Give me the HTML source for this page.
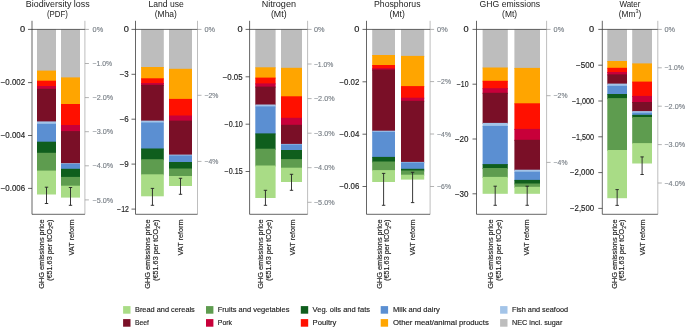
<!DOCTYPE html>
<html><head><meta charset="utf-8"><style>
html,body{margin:0;padding:0;background:#fff;width:685px;height:327px;overflow:hidden;position:relative}
svg{will-change:transform} svg text{font-family:"Liberation Sans", sans-serif} svg text.d{stroke:#222;stroke-width:0.15px} svg text.g{stroke:#7a8088;stroke-width:0.15px}
</style></head><body>
<svg width="685" height="327" viewBox="0 0 685 327" style="position:absolute;left:0;top:0"><rect x="37.0" y="29.4" width="19.00" height="42.20" fill="#bdbdbd"/><rect x="37.0" y="70.6" width="19.00" height="11.10" fill="#ffa500"/><rect x="37.0" y="80.7" width="19.00" height="6.30" fill="#ff1000"/><rect x="37.0" y="86.0" width="19.00" height="3.80" fill="#c8003a"/><rect x="37.0" y="88.8" width="19.00" height="33.60" fill="#7a0f27"/><rect x="37.0" y="121.4" width="19.00" height="3.40" fill="#a3c4e8"/><rect x="37.0" y="123.8" width="19.00" height="18.90" fill="#5b8fd2"/><rect x="37.0" y="141.7" width="19.00" height="12.10" fill="#0f5e1d"/><rect x="37.0" y="152.8" width="19.00" height="18.80" fill="#5e9c4f"/><rect x="37.0" y="170.6" width="19.00" height="23.90" fill="#a9dc86"/><rect x="61.0" y="29.4" width="19.00" height="49.00" fill="#bdbdbd"/><rect x="61.0" y="77.4" width="19.00" height="27.60" fill="#ffa500"/><rect x="61.0" y="104.0" width="19.00" height="22.00" fill="#ff1000"/><rect x="61.0" y="125.0" width="19.00" height="7.10" fill="#c8003a"/><rect x="61.0" y="131.1" width="19.00" height="33.10" fill="#7a0f27"/><rect x="61.0" y="163.2" width="19.00" height="1.60" fill="#a3c4e8"/><rect x="61.0" y="163.8" width="19.00" height="6.00" fill="#5b8fd2"/><rect x="61.0" y="168.8" width="19.00" height="9.10" fill="#0f5e1d"/><rect x="61.0" y="176.9" width="19.00" height="9.80" fill="#5e9c4f"/><rect x="61.0" y="185.7" width="19.00" height="11.90" fill="#a9dc86"/><line x1="32.0" y1="20.8" x2="32.0" y2="214.3" stroke="#333" stroke-width="0.75"/><line x1="84.9" y1="20.8" x2="84.9" y2="214.3" stroke="#a8a8a8" stroke-width="0.75"/><line x1="32.0" y1="214.3" x2="84.9" y2="214.3" stroke="#333" stroke-width="0.75"/><line x1="32.0" y1="29.4" x2="84.9" y2="29.4" stroke="#333" stroke-width="0.75"/><line x1="28.0" y1="29.4" x2="32.0" y2="29.4" stroke="#333" stroke-width="0.75"/><text x="25.150000000000002" y="32.1" text-anchor="end" class="d" font-size="8.2" fill="#222" textLength="5.15" lengthAdjust="spacingAndGlyphs">0</text><line x1="28.0" y1="82.6" x2="32.0" y2="82.6" stroke="#333" stroke-width="0.75"/><text x="25.150000000000002" y="85.3" text-anchor="end" class="d" font-size="8.2" fill="#222" textLength="24.40" lengthAdjust="spacingAndGlyphs">−0.002</text><line x1="28.0" y1="135.5" x2="32.0" y2="135.5" stroke="#333" stroke-width="0.75"/><text x="25.150000000000002" y="138.2" text-anchor="end" class="d" font-size="8.2" fill="#222" textLength="24.40" lengthAdjust="spacingAndGlyphs">−0.004</text><line x1="28.0" y1="188.4" x2="32.0" y2="188.4" stroke="#333" stroke-width="0.75"/><text x="25.150000000000002" y="191.1" text-anchor="end" class="d" font-size="8.2" fill="#222" textLength="24.40" lengthAdjust="spacingAndGlyphs">−0.006</text><line x1="84.9" y1="29.4" x2="88.9" y2="29.4" stroke="#999" stroke-width="0.75"/><text x="92.60000000000001" y="32.0" class="g" font-size="7.5" fill="#7a8088" textLength="10.60" lengthAdjust="spacingAndGlyphs">0%</text><line x1="84.9" y1="63.5" x2="88.9" y2="63.5" stroke="#999" stroke-width="0.75"/><text x="92.60000000000001" y="66.1" class="g" font-size="7.5" fill="#7a8088" textLength="19.50" lengthAdjust="spacingAndGlyphs">−1.0%</text><line x1="84.9" y1="97.6" x2="88.9" y2="97.6" stroke="#999" stroke-width="0.75"/><text x="92.60000000000001" y="100.19999999999999" class="g" font-size="7.5" fill="#7a8088" textLength="20.70" lengthAdjust="spacingAndGlyphs">−2.0%</text><line x1="84.9" y1="131.7" x2="88.9" y2="131.7" stroke="#999" stroke-width="0.75"/><text x="92.60000000000001" y="134.29999999999998" class="g" font-size="7.5" fill="#7a8088" textLength="20.70" lengthAdjust="spacingAndGlyphs">−3.0%</text><line x1="84.9" y1="165.8" x2="88.9" y2="165.8" stroke="#999" stroke-width="0.75"/><text x="92.60000000000001" y="168.4" class="g" font-size="7.5" fill="#7a8088" textLength="20.70" lengthAdjust="spacingAndGlyphs">−4.0%</text><line x1="84.9" y1="199.9" x2="88.9" y2="199.9" stroke="#999" stroke-width="0.75"/><text x="92.60000000000001" y="202.5" class="g" font-size="7.5" fill="#7a8088" textLength="20.70" lengthAdjust="spacingAndGlyphs">−5.0%</text><line x1="46.5" y1="187.2" x2="46.5" y2="203.5" stroke="#222" stroke-width="0.9"/><line x1="44.8" y1="187.2" x2="48.2" y2="187.2" stroke="#222" stroke-width="0.9"/><line x1="44.8" y1="203.5" x2="48.2" y2="203.5" stroke="#222" stroke-width="0.9"/><line x1="70.5" y1="187.5" x2="70.5" y2="205.3" stroke="#222" stroke-width="0.9"/><line x1="68.8" y1="187.5" x2="72.2" y2="187.5" stroke="#222" stroke-width="0.9"/><line x1="68.8" y1="205.3" x2="72.2" y2="205.3" stroke="#222" stroke-width="0.9"/><text x="25.8" y="6.7" font-size="8.6" fill="#222" textLength="63.90" lengthAdjust="spacingAndGlyphs">Biodiversity loss</text><text x="47.0" y="16.9" font-size="8.6" fill="#222" textLength="20.90" lengthAdjust="spacingAndGlyphs">(PDF)</text><text transform="translate(43.75,288.7) rotate(-90)" class="d" font-size="7.5" fill="#222" textLength="69.2" lengthAdjust="spacingAndGlyphs">GHG emissions price</text><text transform="translate(51.8,281.0) rotate(-90)" class="d" font-size="7.5" fill="#222" textLength="61.5" lengthAdjust="spacingAndGlyphs">(€51.63 per tCO<tspan font-size="5.2" dy="1.3">2</tspan><tspan dy="-1.3">e)</tspan></text><text transform="translate(73.5,255.5) rotate(-90)" class="d" font-size="7.5" fill="#222" textLength="36.0" lengthAdjust="spacingAndGlyphs">VAT reform</text><rect x="141.1" y="29.4" width="22.70" height="38.60" fill="#bdbdbd"/><rect x="141.1" y="67.0" width="22.70" height="12.30" fill="#ffa500"/><rect x="141.1" y="78.3" width="22.70" height="5.70" fill="#ff1000"/><rect x="141.1" y="83.0" width="22.70" height="2.80" fill="#c8003a"/><rect x="141.1" y="84.8" width="22.70" height="36.80" fill="#7a0f27"/><rect x="141.1" y="120.6" width="22.70" height="2.90" fill="#a3c4e8"/><rect x="141.1" y="122.5" width="22.70" height="27.00" fill="#5b8fd2"/><rect x="141.1" y="148.5" width="22.70" height="11.70" fill="#0f5e1d"/><rect x="141.1" y="159.2" width="22.70" height="16.10" fill="#5e9c4f"/><rect x="141.1" y="174.3" width="22.70" height="22.00" fill="#a9dc86"/><rect x="169.0" y="29.4" width="23.00" height="40.40" fill="#bdbdbd"/><rect x="169.0" y="68.8" width="23.00" height="31.10" fill="#ffa500"/><rect x="169.0" y="98.9" width="23.00" height="17.60" fill="#ff1000"/><rect x="169.0" y="115.5" width="23.00" height="6.10" fill="#c8003a"/><rect x="169.0" y="120.6" width="23.00" height="35.00" fill="#7a0f27"/><rect x="169.0" y="154.6" width="23.00" height="1.90" fill="#a3c4e8"/><rect x="169.0" y="155.5" width="23.00" height="7.50" fill="#5b8fd2"/><rect x="169.0" y="162.0" width="23.00" height="7.50" fill="#0f5e1d"/><rect x="169.0" y="168.5" width="23.00" height="8.50" fill="#5e9c4f"/><rect x="169.0" y="176.0" width="23.00" height="10.00" fill="#a9dc86"/><line x1="135.5" y1="20.8" x2="135.5" y2="214.3" stroke="#333" stroke-width="0.75"/><line x1="197.5" y1="20.8" x2="197.5" y2="214.3" stroke="#a8a8a8" stroke-width="0.75"/><line x1="135.5" y1="214.3" x2="197.5" y2="214.3" stroke="#333" stroke-width="0.75"/><line x1="135.5" y1="29.4" x2="197.5" y2="29.4" stroke="#333" stroke-width="0.75"/><line x1="131.5" y1="29.4" x2="135.5" y2="29.4" stroke="#333" stroke-width="0.75"/><text x="128.85" y="32.1" text-anchor="end" class="d" font-size="8.2" fill="#222" textLength="5.15" lengthAdjust="spacingAndGlyphs">0</text><line x1="131.5" y1="74.3" x2="135.5" y2="74.3" stroke="#333" stroke-width="0.75"/><text x="128.85" y="77.0" text-anchor="end" class="d" font-size="8.2" fill="#222" textLength="9.15" lengthAdjust="spacingAndGlyphs">−3</text><line x1="131.5" y1="119.2" x2="135.5" y2="119.2" stroke="#333" stroke-width="0.75"/><text x="128.85" y="121.9" text-anchor="end" class="d" font-size="8.2" fill="#222" textLength="9.15" lengthAdjust="spacingAndGlyphs">−6</text><line x1="131.5" y1="164.1" x2="135.5" y2="164.1" stroke="#333" stroke-width="0.75"/><text x="128.85" y="166.79999999999998" text-anchor="end" class="d" font-size="8.2" fill="#222" textLength="9.15" lengthAdjust="spacingAndGlyphs">−9</text><line x1="131.5" y1="209.1" x2="135.5" y2="209.1" stroke="#333" stroke-width="0.75"/><text x="128.85" y="211.79999999999998" text-anchor="end" class="d" font-size="8.2" fill="#222" textLength="11.75" lengthAdjust="spacingAndGlyphs">−12</text><line x1="197.5" y1="29.4" x2="201.5" y2="29.4" stroke="#999" stroke-width="0.75"/><text x="204.5" y="32.0" class="g" font-size="7.5" fill="#7a8088" textLength="10.60" lengthAdjust="spacingAndGlyphs">0%</text><line x1="197.5" y1="95.3" x2="201.5" y2="95.3" stroke="#999" stroke-width="0.75"/><text x="204.5" y="97.89999999999999" class="g" font-size="7.5" fill="#7a8088" textLength="13.90" lengthAdjust="spacingAndGlyphs">−2%</text><line x1="197.5" y1="161.4" x2="201.5" y2="161.4" stroke="#999" stroke-width="0.75"/><text x="204.5" y="164.0" class="g" font-size="7.5" fill="#7a8088" textLength="13.90" lengthAdjust="spacingAndGlyphs">−4%</text><line x1="152.45" y1="188.4" x2="152.45" y2="205.3" stroke="#222" stroke-width="0.9"/><line x1="150.75" y1="188.4" x2="154.14999999999998" y2="188.4" stroke="#222" stroke-width="0.9"/><line x1="150.75" y1="205.3" x2="154.14999999999998" y2="205.3" stroke="#222" stroke-width="0.9"/><line x1="180.5" y1="178.3" x2="180.5" y2="194.3" stroke="#222" stroke-width="0.9"/><line x1="178.8" y1="178.3" x2="182.2" y2="178.3" stroke="#222" stroke-width="0.9"/><line x1="178.8" y1="194.3" x2="182.2" y2="194.3" stroke="#222" stroke-width="0.9"/><text x="148.4" y="6.7" font-size="8.6" fill="#222" textLength="35.40" lengthAdjust="spacingAndGlyphs">Land use</text><text x="154.8" y="16.9" font-size="8.6" fill="#222" textLength="22.10" lengthAdjust="spacingAndGlyphs">(Mha)</text><text transform="translate(150.0,288.7) rotate(-90)" class="d" font-size="7.5" fill="#222" textLength="69.2" lengthAdjust="spacingAndGlyphs">GHG emissions price</text><text transform="translate(158.4,281.0) rotate(-90)" class="d" font-size="7.5" fill="#222" textLength="61.5" lengthAdjust="spacingAndGlyphs">(€51.63 per tCO<tspan font-size="5.2" dy="1.3">2</tspan><tspan dy="-1.3">e)</tspan></text><text transform="translate(182.5,255.5) rotate(-90)" class="d" font-size="7.5" fill="#222" textLength="36.0" lengthAdjust="spacingAndGlyphs">VAT reform</text><rect x="255.3" y="29.4" width="20.30" height="38.90" fill="#bdbdbd"/><rect x="255.3" y="67.3" width="20.30" height="11.30" fill="#ffa500"/><rect x="255.3" y="77.6" width="20.30" height="6.80" fill="#ff1000"/><rect x="255.3" y="83.4" width="20.30" height="4.20" fill="#c8003a"/><rect x="255.3" y="86.6" width="20.30" height="18.90" fill="#7a0f27"/><rect x="255.3" y="104.5" width="20.30" height="2.90" fill="#a3c4e8"/><rect x="255.3" y="106.4" width="20.30" height="28.00" fill="#5b8fd2"/><rect x="255.3" y="133.4" width="20.30" height="16.30" fill="#0f5e1d"/><rect x="255.3" y="148.7" width="20.30" height="17.80" fill="#5e9c4f"/><rect x="255.3" y="165.5" width="20.30" height="32.50" fill="#a9dc86"/><rect x="281.0" y="29.4" width="21.00" height="39.40" fill="#bdbdbd"/><rect x="281.0" y="67.8" width="21.00" height="29.50" fill="#ffa500"/><rect x="281.0" y="96.3" width="21.00" height="22.50" fill="#ff1000"/><rect x="281.0" y="117.8" width="21.00" height="8.00" fill="#c8003a"/><rect x="281.0" y="124.8" width="21.00" height="20.10" fill="#7a0f27"/><rect x="281.0" y="143.9" width="21.00" height="1.60" fill="#a3c4e8"/><rect x="281.0" y="144.5" width="21.00" height="6.50" fill="#5b8fd2"/><rect x="281.0" y="150.0" width="21.00" height="10.10" fill="#0f5e1d"/><rect x="281.0" y="159.1" width="21.00" height="9.60" fill="#5e9c4f"/><rect x="281.0" y="167.7" width="21.00" height="14.30" fill="#a9dc86"/><line x1="249.6" y1="20.8" x2="249.6" y2="214.3" stroke="#333" stroke-width="0.75"/><line x1="307.6" y1="20.8" x2="307.6" y2="214.3" stroke="#a8a8a8" stroke-width="0.75"/><line x1="249.6" y1="214.3" x2="307.6" y2="214.3" stroke="#333" stroke-width="0.75"/><line x1="249.6" y1="29.4" x2="307.6" y2="29.4" stroke="#333" stroke-width="0.75"/><line x1="245.6" y1="29.4" x2="249.6" y2="29.4" stroke="#333" stroke-width="0.75"/><text x="242.64999999999998" y="32.1" text-anchor="end" class="d" font-size="8.2" fill="#222" textLength="5.15" lengthAdjust="spacingAndGlyphs">0</text><line x1="245.6" y1="76.8" x2="249.6" y2="76.8" stroke="#333" stroke-width="0.75"/><text x="242.64999999999998" y="79.5" text-anchor="end" class="d" font-size="8.2" fill="#222" textLength="19.95" lengthAdjust="spacingAndGlyphs">−0.05</text><line x1="245.6" y1="124.2" x2="249.6" y2="124.2" stroke="#333" stroke-width="0.75"/><text x="242.64999999999998" y="126.9" text-anchor="end" class="d" font-size="8.2" fill="#222" textLength="18.10" lengthAdjust="spacingAndGlyphs">−0.10</text><line x1="245.6" y1="171.5" x2="249.6" y2="171.5" stroke="#333" stroke-width="0.75"/><text x="242.64999999999998" y="174.2" text-anchor="end" class="d" font-size="8.2" fill="#222" textLength="18.10" lengthAdjust="spacingAndGlyphs">−0.15</text><line x1="307.6" y1="29.4" x2="311.6" y2="29.4" stroke="#999" stroke-width="0.75"/><text x="313.90000000000003" y="32.0" class="g" font-size="7.5" fill="#7a8088" textLength="10.60" lengthAdjust="spacingAndGlyphs">0%</text><line x1="307.6" y1="64.0" x2="311.6" y2="64.0" stroke="#999" stroke-width="0.75"/><text x="313.90000000000003" y="66.6" class="g" font-size="7.5" fill="#7a8088" textLength="19.50" lengthAdjust="spacingAndGlyphs">−1.0%</text><line x1="307.6" y1="98.6" x2="311.6" y2="98.6" stroke="#999" stroke-width="0.75"/><text x="313.90000000000003" y="101.19999999999999" class="g" font-size="7.5" fill="#7a8088" textLength="20.70" lengthAdjust="spacingAndGlyphs">−2.0%</text><line x1="307.6" y1="133.2" x2="311.6" y2="133.2" stroke="#999" stroke-width="0.75"/><text x="313.90000000000003" y="135.79999999999998" class="g" font-size="7.5" fill="#7a8088" textLength="20.70" lengthAdjust="spacingAndGlyphs">−3.0%</text><line x1="307.6" y1="167.7" x2="311.6" y2="167.7" stroke="#999" stroke-width="0.75"/><text x="313.90000000000003" y="170.29999999999998" class="g" font-size="7.5" fill="#7a8088" textLength="20.70" lengthAdjust="spacingAndGlyphs">−4.0%</text><line x1="307.6" y1="202.3" x2="311.6" y2="202.3" stroke="#999" stroke-width="0.75"/><text x="313.90000000000003" y="204.9" class="g" font-size="7.5" fill="#7a8088" textLength="20.70" lengthAdjust="spacingAndGlyphs">−5.0%</text><line x1="265.45000000000005" y1="190.3" x2="265.45000000000005" y2="205.3" stroke="#222" stroke-width="0.9"/><line x1="263.75000000000006" y1="190.3" x2="267.15000000000003" y2="190.3" stroke="#222" stroke-width="0.9"/><line x1="263.75000000000006" y1="205.3" x2="267.15000000000003" y2="205.3" stroke="#222" stroke-width="0.9"/><line x1="291.5" y1="174.3" x2="291.5" y2="190.3" stroke="#222" stroke-width="0.9"/><line x1="289.8" y1="174.3" x2="293.2" y2="174.3" stroke="#222" stroke-width="0.9"/><line x1="289.8" y1="190.3" x2="293.2" y2="190.3" stroke="#222" stroke-width="0.9"/><text x="261.7" y="6.7" font-size="8.6" fill="#222" textLength="34.30" lengthAdjust="spacingAndGlyphs">Nitrogen</text><text x="270.9" y="16.9" font-size="8.6" fill="#222" textLength="15.70" lengthAdjust="spacingAndGlyphs">(Mt)</text><text transform="translate(262.8,288.7) rotate(-90)" class="d" font-size="7.5" fill="#222" textLength="69.2" lengthAdjust="spacingAndGlyphs">GHG emissions price</text><text transform="translate(270.6,281.0) rotate(-90)" class="d" font-size="7.5" fill="#222" textLength="61.5" lengthAdjust="spacingAndGlyphs">(€51.63 per tCO<tspan font-size="5.2" dy="1.3">2</tspan><tspan dy="-1.3">e)</tspan></text><text transform="translate(294.8,255.5) rotate(-90)" class="d" font-size="7.5" fill="#222" textLength="36.0" lengthAdjust="spacingAndGlyphs">VAT reform</text><rect x="372.2" y="29.4" width="22.80" height="26.60" fill="#bdbdbd"/><rect x="372.2" y="55.0" width="22.80" height="11.00" fill="#ffa500"/><rect x="372.2" y="65.0" width="22.80" height="4.30" fill="#ff1000"/><rect x="372.2" y="68.3" width="22.80" height="2.30" fill="#c8003a"/><rect x="372.2" y="69.6" width="22.80" height="62.10" fill="#7a0f27"/><rect x="372.2" y="130.7" width="22.80" height="2.10" fill="#a3c4e8"/><rect x="372.2" y="131.8" width="22.80" height="26.10" fill="#5b8fd2"/><rect x="372.2" y="156.9" width="22.80" height="5.60" fill="#0f5e1d"/><rect x="372.2" y="161.5" width="22.80" height="9.60" fill="#5e9c4f"/><rect x="372.2" y="170.1" width="22.80" height="11.90" fill="#a9dc86"/><rect x="401.0" y="29.4" width="23.20" height="27.50" fill="#bdbdbd"/><rect x="401.0" y="55.9" width="23.20" height="31.20" fill="#ffa500"/><rect x="401.0" y="86.1" width="23.20" height="12.60" fill="#ff1000"/><rect x="401.0" y="97.7" width="23.20" height="4.10" fill="#c8003a"/><rect x="401.0" y="100.8" width="23.20" height="62.10" fill="#7a0f27"/><rect x="401.0" y="161.9" width="23.20" height="1.60" fill="#a3c4e8"/><rect x="401.0" y="162.5" width="23.20" height="7.30" fill="#5b8fd2"/><rect x="401.0" y="168.8" width="23.20" height="2.70" fill="#0f5e1d"/><rect x="401.0" y="170.5" width="23.20" height="5.20" fill="#5e9c4f"/><rect x="401.0" y="174.7" width="23.20" height="4.90" fill="#a9dc86"/><line x1="366.5" y1="20.8" x2="366.5" y2="214.3" stroke="#333" stroke-width="0.75"/><line x1="430.1" y1="20.8" x2="430.1" y2="214.3" stroke="#a8a8a8" stroke-width="0.75"/><line x1="366.5" y1="214.3" x2="430.1" y2="214.3" stroke="#333" stroke-width="0.75"/><line x1="366.5" y1="29.4" x2="430.1" y2="29.4" stroke="#333" stroke-width="0.75"/><line x1="362.5" y1="29.4" x2="366.5" y2="29.4" stroke="#333" stroke-width="0.75"/><text x="359.35" y="32.1" text-anchor="end" class="d" font-size="8.2" fill="#222" textLength="5.15" lengthAdjust="spacingAndGlyphs">0</text><line x1="362.5" y1="81.8" x2="366.5" y2="81.8" stroke="#333" stroke-width="0.75"/><text x="359.35" y="84.5" text-anchor="end" class="d" font-size="8.2" fill="#222" textLength="19.95" lengthAdjust="spacingAndGlyphs">−0.02</text><line x1="362.5" y1="134.2" x2="366.5" y2="134.2" stroke="#333" stroke-width="0.75"/><text x="359.35" y="136.89999999999998" text-anchor="end" class="d" font-size="8.2" fill="#222" textLength="19.95" lengthAdjust="spacingAndGlyphs">−0.04</text><line x1="362.5" y1="186.5" x2="366.5" y2="186.5" stroke="#333" stroke-width="0.75"/><text x="359.35" y="189.2" text-anchor="end" class="d" font-size="8.2" fill="#222" textLength="19.95" lengthAdjust="spacingAndGlyphs">−0.06</text><line x1="430.1" y1="29.4" x2="434.1" y2="29.4" stroke="#999" stroke-width="0.75"/><text x="437.1" y="32.0" class="g" font-size="7.5" fill="#7a8088" textLength="10.60" lengthAdjust="spacingAndGlyphs">0%</text><line x1="430.1" y1="81.6" x2="434.1" y2="81.6" stroke="#999" stroke-width="0.75"/><text x="437.1" y="84.19999999999999" class="g" font-size="7.5" fill="#7a8088" textLength="13.90" lengthAdjust="spacingAndGlyphs">−2%</text><line x1="430.1" y1="134.0" x2="434.1" y2="134.0" stroke="#999" stroke-width="0.75"/><text x="437.1" y="136.6" class="g" font-size="7.5" fill="#7a8088" textLength="13.90" lengthAdjust="spacingAndGlyphs">−4%</text><line x1="430.1" y1="186.5" x2="434.1" y2="186.5" stroke="#999" stroke-width="0.75"/><text x="437.1" y="189.1" class="g" font-size="7.5" fill="#7a8088" textLength="13.90" lengthAdjust="spacingAndGlyphs">−6%</text><line x1="383.6" y1="173.4" x2="383.6" y2="205.3" stroke="#222" stroke-width="0.9"/><line x1="381.90000000000003" y1="173.4" x2="385.3" y2="173.4" stroke="#222" stroke-width="0.9"/><line x1="381.90000000000003" y1="205.3" x2="385.3" y2="205.3" stroke="#222" stroke-width="0.9"/><line x1="412.6" y1="172.3" x2="412.6" y2="202.6" stroke="#222" stroke-width="0.9"/><line x1="410.90000000000003" y1="172.3" x2="414.3" y2="172.3" stroke="#222" stroke-width="0.9"/><line x1="410.90000000000003" y1="202.6" x2="414.3" y2="202.6" stroke="#222" stroke-width="0.9"/><text x="374.0" y="6.7" font-size="8.6" fill="#222" textLength="46.50" lengthAdjust="spacingAndGlyphs">Phosphorus</text><text x="389.5" y="16.9" font-size="8.6" fill="#222" textLength="15.30" lengthAdjust="spacingAndGlyphs">(Mt)</text><text transform="translate(382.2,288.7) rotate(-90)" class="d" font-size="7.5" fill="#222" textLength="69.2" lengthAdjust="spacingAndGlyphs">GHG emissions price</text><text transform="translate(389.4,281.0) rotate(-90)" class="d" font-size="7.5" fill="#222" textLength="61.5" lengthAdjust="spacingAndGlyphs">(€51.63 per tCO<tspan font-size="5.2" dy="1.3">2</tspan><tspan dy="-1.3">e)</tspan></text><text transform="translate(415.3,255.5) rotate(-90)" class="d" font-size="7.5" fill="#222" textLength="36.0" lengthAdjust="spacingAndGlyphs">VAT reform</text><rect x="482.6" y="29.4" width="25.20" height="39.10" fill="#bdbdbd"/><rect x="482.6" y="67.5" width="25.20" height="14.30" fill="#ffa500"/><rect x="482.6" y="80.8" width="25.20" height="8.40" fill="#ff1000"/><rect x="482.6" y="88.2" width="25.20" height="5.60" fill="#c8003a"/><rect x="482.6" y="92.8" width="25.20" height="31.10" fill="#7a0f27"/><rect x="482.6" y="122.9" width="25.20" height="4.00" fill="#a3c4e8"/><rect x="482.6" y="125.9" width="25.20" height="39.20" fill="#5b8fd2"/><rect x="482.6" y="164.1" width="25.20" height="4.90" fill="#0f5e1d"/><rect x="482.6" y="168.0" width="25.20" height="9.90" fill="#5e9c4f"/><rect x="482.6" y="176.9" width="25.20" height="16.90" fill="#a9dc86"/><rect x="514.4" y="29.4" width="25.60" height="39.50" fill="#bdbdbd"/><rect x="514.4" y="67.9" width="25.60" height="36.40" fill="#ffa500"/><rect x="514.4" y="103.3" width="25.60" height="26.60" fill="#ff1000"/><rect x="514.4" y="128.9" width="25.60" height="11.90" fill="#c8003a"/><rect x="514.4" y="139.8" width="25.60" height="30.90" fill="#7a0f27"/><rect x="514.4" y="169.7" width="25.60" height="3.00" fill="#a3c4e8"/><rect x="514.4" y="171.7" width="25.60" height="9.20" fill="#5b8fd2"/><rect x="514.4" y="179.9" width="25.60" height="4.60" fill="#0f5e1d"/><rect x="514.4" y="183.5" width="25.60" height="4.30" fill="#5e9c4f"/><rect x="514.4" y="186.8" width="25.60" height="7.00" fill="#a9dc86"/><line x1="476.5" y1="20.8" x2="476.5" y2="214.3" stroke="#333" stroke-width="0.75"/><line x1="546.6" y1="20.8" x2="546.6" y2="214.3" stroke="#a8a8a8" stroke-width="0.75"/><line x1="476.5" y1="214.3" x2="546.6" y2="214.3" stroke="#333" stroke-width="0.75"/><line x1="476.5" y1="29.4" x2="546.6" y2="29.4" stroke="#333" stroke-width="0.75"/><line x1="472.5" y1="29.4" x2="476.5" y2="29.4" stroke="#333" stroke-width="0.75"/><text x="468.55" y="32.1" text-anchor="end" class="d" font-size="8.2" fill="#222" textLength="5.15" lengthAdjust="spacingAndGlyphs">0</text><line x1="472.5" y1="84.2" x2="476.5" y2="84.2" stroke="#333" stroke-width="0.75"/><text x="468.55" y="86.9" text-anchor="end" class="d" font-size="8.2" fill="#222" textLength="11.75" lengthAdjust="spacingAndGlyphs">−10</text><line x1="472.5" y1="139.0" x2="476.5" y2="139.0" stroke="#333" stroke-width="0.75"/><text x="468.55" y="141.7" text-anchor="end" class="d" font-size="8.2" fill="#222" textLength="13.60" lengthAdjust="spacingAndGlyphs">−20</text><line x1="472.5" y1="193.8" x2="476.5" y2="193.8" stroke="#333" stroke-width="0.75"/><text x="468.55" y="196.5" text-anchor="end" class="d" font-size="8.2" fill="#222" textLength="13.60" lengthAdjust="spacingAndGlyphs">−30</text><line x1="546.6" y1="29.4" x2="550.6" y2="29.4" stroke="#999" stroke-width="0.75"/><text x="553.6" y="32.0" class="g" font-size="7.5" fill="#7a8088" textLength="10.60" lengthAdjust="spacingAndGlyphs">0%</text><line x1="546.6" y1="95.7" x2="550.6" y2="95.7" stroke="#999" stroke-width="0.75"/><text x="553.6" y="98.3" class="g" font-size="7.5" fill="#7a8088" textLength="13.90" lengthAdjust="spacingAndGlyphs">−2%</text><line x1="546.6" y1="162.4" x2="550.6" y2="162.4" stroke="#999" stroke-width="0.75"/><text x="553.6" y="165.0" class="g" font-size="7.5" fill="#7a8088" textLength="13.90" lengthAdjust="spacingAndGlyphs">−4%</text><line x1="495.20000000000005" y1="186.2" x2="495.20000000000005" y2="205.3" stroke="#222" stroke-width="0.9"/><line x1="493.50000000000006" y1="186.2" x2="496.90000000000003" y2="186.2" stroke="#222" stroke-width="0.9"/><line x1="493.50000000000006" y1="205.3" x2="496.90000000000003" y2="205.3" stroke="#222" stroke-width="0.9"/><line x1="527.2" y1="186.2" x2="527.2" y2="205.3" stroke="#222" stroke-width="0.9"/><line x1="525.5" y1="186.2" x2="528.9000000000001" y2="186.2" stroke="#222" stroke-width="0.9"/><line x1="525.5" y1="205.3" x2="528.9000000000001" y2="205.3" stroke="#222" stroke-width="0.9"/><text x="479.6" y="6.7" font-size="8.6" fill="#222" textLength="60.50" lengthAdjust="spacingAndGlyphs">GHG emissions</text><text x="502.1" y="16.9" font-size="8.6" fill="#222" textLength="15.00" lengthAdjust="spacingAndGlyphs">(Mt)</text><text transform="translate(493.2,288.7) rotate(-90)" class="d" font-size="7.5" fill="#222" textLength="69.2" lengthAdjust="spacingAndGlyphs">GHG emissions price</text><text transform="translate(500.6,281.0) rotate(-90)" class="d" font-size="7.5" fill="#222" textLength="61.5" lengthAdjust="spacingAndGlyphs">(€51.63 per tCO<tspan font-size="5.2" dy="1.3">2</tspan><tspan dy="-1.3">e)</tspan></text><text transform="translate(529.25,255.5) rotate(-90)" class="d" font-size="7.5" fill="#222" textLength="36.0" lengthAdjust="spacingAndGlyphs">VAT reform</text><rect x="607.3" y="29.4" width="19.70" height="32.60" fill="#bdbdbd"/><rect x="607.3" y="61.0" width="19.70" height="7.80" fill="#ffa500"/><rect x="607.3" y="67.8" width="19.70" height="5.20" fill="#ff1000"/><rect x="607.3" y="72.0" width="19.70" height="3.40" fill="#c8003a"/><rect x="607.3" y="74.4" width="19.70" height="10.20" fill="#7a0f27"/><rect x="607.3" y="83.6" width="19.70" height="3.20" fill="#a3c4e8"/><rect x="607.3" y="85.8" width="19.70" height="9.20" fill="#5b8fd2"/><rect x="607.3" y="94.0" width="19.70" height="5.10" fill="#0f5e1d"/><rect x="607.3" y="98.1" width="19.70" height="52.90" fill="#5e9c4f"/><rect x="607.3" y="150.0" width="19.70" height="48.20" fill="#a9dc86"/><rect x="632.2" y="29.4" width="19.80" height="35.00" fill="#bdbdbd"/><rect x="632.2" y="63.4" width="19.80" height="19.20" fill="#ffa500"/><rect x="632.2" y="81.6" width="19.80" height="15.30" fill="#ff1000"/><rect x="632.2" y="95.9" width="19.80" height="7.10" fill="#c8003a"/><rect x="632.2" y="102.0" width="19.80" height="10.10" fill="#7a0f27"/><rect x="632.2" y="111.1" width="19.80" height="2.60" fill="#a3c4e8"/><rect x="632.2" y="112.7" width="19.80" height="3.10" fill="#5b8fd2"/><rect x="632.2" y="114.8" width="19.80" height="3.20" fill="#0f5e1d"/><rect x="632.2" y="117.0" width="19.80" height="27.10" fill="#5e9c4f"/><rect x="632.2" y="143.1" width="19.80" height="20.40" fill="#a9dc86"/><line x1="602.3" y1="20.8" x2="602.3" y2="214.3" stroke="#333" stroke-width="0.75"/><line x1="657.8" y1="20.8" x2="657.8" y2="214.3" stroke="#a8a8a8" stroke-width="0.75"/><line x1="602.3" y1="214.3" x2="657.8" y2="214.3" stroke="#333" stroke-width="0.75"/><line x1="602.3" y1="29.4" x2="657.8" y2="29.4" stroke="#333" stroke-width="0.75"/><line x1="598.3" y1="29.4" x2="602.3" y2="29.4" stroke="#333" stroke-width="0.75"/><text x="594.15" y="32.1" text-anchor="end" class="d" font-size="8.2" fill="#222" textLength="5.15" lengthAdjust="spacingAndGlyphs">0</text><line x1="598.3" y1="65.2" x2="602.3" y2="65.2" stroke="#333" stroke-width="0.75"/><text x="594.15" y="67.9" text-anchor="end" class="d" font-size="8.2" fill="#222" textLength="18.05" lengthAdjust="spacingAndGlyphs">−500</text><line x1="598.3" y1="101.0" x2="602.3" y2="101.0" stroke="#333" stroke-width="0.75"/><text x="594.15" y="103.7" text-anchor="end" class="d" font-size="8.2" fill="#222" textLength="22.25" lengthAdjust="spacingAndGlyphs">−1,000</text><line x1="598.3" y1="136.8" x2="602.3" y2="136.8" stroke="#333" stroke-width="0.75"/><text x="594.15" y="139.5" text-anchor="end" class="d" font-size="8.2" fill="#222" textLength="22.25" lengthAdjust="spacingAndGlyphs">−1,500</text><line x1="598.3" y1="172.6" x2="602.3" y2="172.6" stroke="#333" stroke-width="0.75"/><text x="594.15" y="175.29999999999998" text-anchor="end" class="d" font-size="8.2" fill="#222" textLength="24.10" lengthAdjust="spacingAndGlyphs">−2,000</text><line x1="598.3" y1="208.4" x2="602.3" y2="208.4" stroke="#333" stroke-width="0.75"/><text x="594.15" y="211.1" text-anchor="end" class="d" font-size="8.2" fill="#222" textLength="24.10" lengthAdjust="spacingAndGlyphs">−2,500</text><line x1="657.8" y1="29.4" x2="661.8" y2="29.4" stroke="#999" stroke-width="0.75"/><text x="664.4" y="32.0" class="g" font-size="7.5" fill="#7a8088" textLength="10.60" lengthAdjust="spacingAndGlyphs">0%</text><line x1="657.8" y1="67.8" x2="661.8" y2="67.8" stroke="#999" stroke-width="0.75"/><text x="664.4" y="70.39999999999999" class="g" font-size="7.5" fill="#7a8088" textLength="19.50" lengthAdjust="spacingAndGlyphs">−1.0%</text><line x1="657.8" y1="106.2" x2="661.8" y2="106.2" stroke="#999" stroke-width="0.75"/><text x="664.4" y="108.8" class="g" font-size="7.5" fill="#7a8088" textLength="20.70" lengthAdjust="spacingAndGlyphs">−2.0%</text><line x1="657.8" y1="144.6" x2="661.8" y2="144.6" stroke="#999" stroke-width="0.75"/><text x="664.4" y="147.2" class="g" font-size="7.5" fill="#7a8088" textLength="20.70" lengthAdjust="spacingAndGlyphs">−3.0%</text><line x1="657.8" y1="183.0" x2="661.8" y2="183.0" stroke="#999" stroke-width="0.75"/><text x="664.4" y="185.6" class="g" font-size="7.5" fill="#7a8088" textLength="20.70" lengthAdjust="spacingAndGlyphs">−4.0%</text><line x1="617.15" y1="189.6" x2="617.15" y2="205.4" stroke="#222" stroke-width="0.9"/><line x1="615.4499999999999" y1="189.6" x2="618.85" y2="189.6" stroke="#222" stroke-width="0.9"/><line x1="615.4499999999999" y1="205.4" x2="618.85" y2="205.4" stroke="#222" stroke-width="0.9"/><line x1="642.1" y1="156.9" x2="642.1" y2="174.5" stroke="#222" stroke-width="0.9"/><line x1="640.4" y1="156.9" x2="643.8000000000001" y2="156.9" stroke="#222" stroke-width="0.9"/><line x1="640.4" y1="174.5" x2="643.8000000000001" y2="174.5" stroke="#222" stroke-width="0.9"/><text x="619.4" y="6.7" font-size="8.6" fill="#222" textLength="21.10" lengthAdjust="spacingAndGlyphs">Water</text><text x="618.8" y="16.9" font-size="8.6" fill="#222" textLength="22.40" lengthAdjust="spacingAndGlyphs">(Mm<tspan font-size="5.6" dy="-4">3</tspan><tspan dy="4">)</tspan></text><text transform="translate(616.6,288.7) rotate(-90)" class="d" font-size="7.5" fill="#222" textLength="69.2" lengthAdjust="spacingAndGlyphs">GHG emissions price</text><text transform="translate(624.3,281.0) rotate(-90)" class="d" font-size="7.5" fill="#222" textLength="61.5" lengthAdjust="spacingAndGlyphs">(€51.63 per tCO<tspan font-size="5.2" dy="1.3">2</tspan><tspan dy="-1.3">e)</tspan></text><text transform="translate(645.3,255.5) rotate(-90)" class="d" font-size="7.5" fill="#222" textLength="36.0" lengthAdjust="spacingAndGlyphs">VAT reform</text><rect x="123.1" y="306.1" width="7.4" height="7.6" fill="#a9dc86"/><text x="135.0" y="312.3" class="d" font-size="7.5" fill="#222" textLength="59.80" lengthAdjust="spacingAndGlyphs">Bread and cereals</text><rect x="206.0" y="306.1" width="7.4" height="7.6" fill="#5e9c4f"/><text x="217.8" y="312.3" class="d" font-size="7.5" fill="#222" textLength="71.60" lengthAdjust="spacingAndGlyphs">Fruits and vegetables</text><rect x="300.8" y="306.1" width="7.4" height="7.6" fill="#0f5e1d"/><text x="312.6" y="312.3" class="d" font-size="7.5" fill="#222" textLength="57.40" lengthAdjust="spacingAndGlyphs">Veg. oils and fats</text><rect x="380.7" y="306.1" width="7.4" height="7.6" fill="#5b8fd2"/><text x="393.0" y="312.3" class="d" font-size="7.5" fill="#222" textLength="46.70" lengthAdjust="spacingAndGlyphs">Milk and dairy</text><rect x="500.1" y="306.1" width="7.4" height="7.6" fill="#a3c4e8"/><text x="512.0" y="312.3" class="d" font-size="7.5" fill="#222" textLength="56.10" lengthAdjust="spacingAndGlyphs">Fish and seafood</text><rect x="123.1" y="319.1" width="7.4" height="7.6" fill="#7a0f27"/><text x="134.9" y="325.3" class="d" font-size="7.5" fill="#222" textLength="14.00" lengthAdjust="spacingAndGlyphs">Beef</text><rect x="206.0" y="319.1" width="7.4" height="7.6" fill="#c8003a"/><text x="217.8" y="325.3" class="d" font-size="7.5" fill="#222" textLength="14.30" lengthAdjust="spacingAndGlyphs">Pork</text><rect x="300.8" y="319.1" width="7.4" height="7.6" fill="#ff1000"/><text x="312.6" y="325.3" class="d" font-size="7.5" fill="#222" textLength="23.80" lengthAdjust="spacingAndGlyphs">Poultry</text><rect x="380.7" y="319.1" width="7.4" height="7.6" fill="#ffa500"/><text x="393.0" y="325.3" class="d" font-size="7.5" fill="#222" textLength="95.80" lengthAdjust="spacingAndGlyphs">Other meat/animal products</text><rect x="500.1" y="319.1" width="7.4" height="7.6" fill="#bdbdbd"/><text x="512.0" y="325.3" class="d" font-size="7.5" fill="#222" textLength="50.30" lengthAdjust="spacingAndGlyphs">NEC incl. sugar</text></svg>
</body></html>
